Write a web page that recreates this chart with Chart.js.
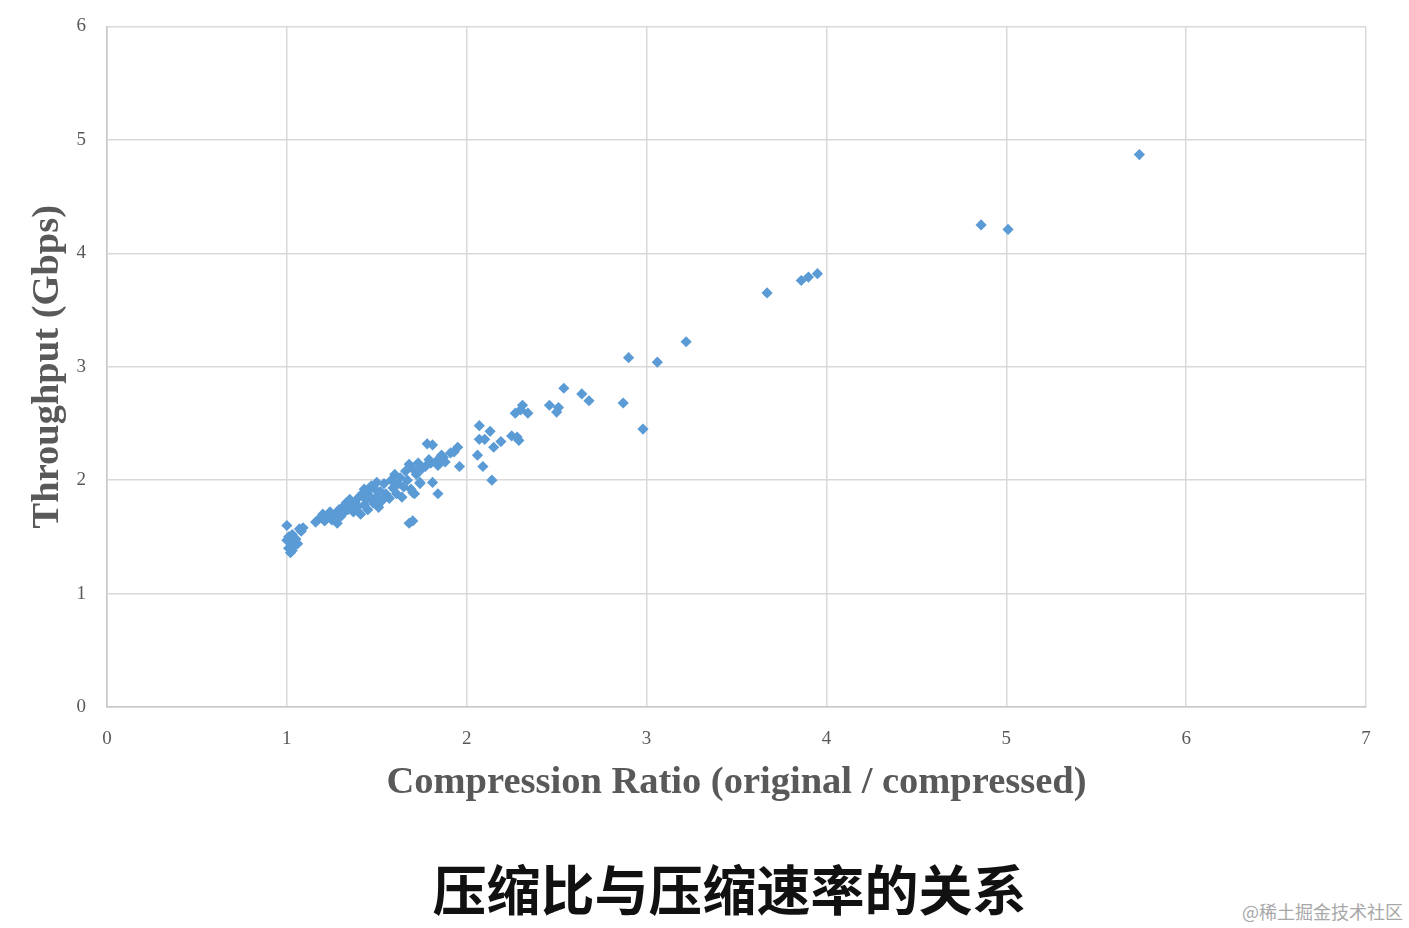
<!DOCTYPE html>
<html>
<head>
<meta charset="utf-8">
<script src="https://cdn.jsdelivr.net/npm/chart.js@4/dist/chart.umd.min.js"></script>
<style>
  html, body { margin: 0; padding: 0; background: #fff; }
  #wrap { position: absolute; left: 0; top: -6px; width: 1409px; height: 826px; }
  #caption {
    position: absolute; left: 0; width: 1409px; top: 852px; text-align: center;
    font-family: "Noto Sans CJK SC", sans-serif; font-weight: 700; font-size: 54px;
    color: #111; line-height: 72px; padding-left: 50px; box-sizing: border-box;
  }
  #mark {
    position: absolute; right: 6px; top: 898px;
    font-family: "Noto Sans CJK SC", sans-serif; font-size: 18px; color: #a8a8a8;
  }
</style>
</head>
<body>
<div id="wrap"><canvas id="chart"></canvas></div>
<div id="caption">压缩比与压缩速率的关系</div>
<div id="mark">@稀土掘金技术社区</div>
<script>
// compression ratio (x) and throughput in Gbps (y)
const ratio = [
  1.00, 1.01, 1.02, 1.01, 1.02, 1.03, 1.04, 1.05, 1.06, 1.03, 1.07, 1.09, 1.08, 1.00,
  1.16, 1.18, 1.20, 1.21, 1.23, 1.24, 1.25, 1.27, 1.28, 1.29, 1.30, 1.31, 1.32, 1.33, 1.34, 1.35, 1.36,
  1.37, 1.38, 1.39, 1.40, 1.41, 1.42, 1.43, 1.44, 1.45, 1.45, 1.46, 1.47, 1.48, 1.49, 1.50, 1.51, 1.52, 1.53, 1.54, 1.55, 1.50, 1.43,
  1.57, 1.58, 1.59, 1.60, 1.61, 1.62, 1.63, 1.64, 1.65, 1.66, 1.67, 1.68, 1.69, 1.70, 1.71, 1.72, 1.73, 1.74, 1.68, 1.70, 1.75,
  1.78, 1.81, 1.77, 1.79, 1.80, 1.81, 1.84, 1.84, 1.84, 1.87, 1.88, 1.91, 1.93, 1.95, 1.96, 1.74, 1.70, 1.86,
  2.07, 2.13, 2.07, 2.10, 2.19, 2.15, 2.25, 2.28, 2.29, 2.06, 2.09, 2.14, 2.27, 2.31, 2.34, 2.30,
  2.46, 2.51, 2.50, 2.54, 2.64, 2.68, 2.87, 2.98, 2.90, 3.06, 3.22,
  3.67, 3.86, 3.90, 3.95, 4.86, 5.01, 5.74
];
const throughput = [
  1.60, 1.50, 1.45, 1.40, 1.36, 1.38, 1.42, 1.48, 1.44, 1.52, 1.57, 1.58, 1.55, 1.47,
  1.63, 1.66, 1.70, 1.64, 1.68, 1.72, 1.65, 1.70, 1.62, 1.74, 1.68, 1.76, 1.72, 1.80, 1.74, 1.83, 1.78,
  1.72, 1.80, 1.76, 1.85, 1.70, 1.88, 1.78, 1.83, 1.90, 1.74, 1.86, 1.95, 1.80, 1.92, 1.85, 1.76, 1.90, 1.82, 1.97, 1.88, 1.98, 1.92,
  1.84, 2.00, 1.93, 2.05, 1.88, 1.97, 2.02, 1.85, 1.94, 2.08, 2.00, 2.14, 1.92, 2.10, 1.88, 2.05, 2.15, 1.97, 1.62, 1.64, 2.10,
  2.32, 2.31, 2.12, 2.18, 2.15, 1.98, 2.18, 1.88, 2.13, 2.20, 2.16, 2.24, 2.25, 2.29, 2.12, 1.98, 1.89, 2.22,
  2.48, 2.43, 2.36, 2.36, 2.34, 2.29, 2.39, 2.38, 2.35, 2.22, 2.12, 2.00, 2.59, 2.66, 2.59, 2.62,
  2.66, 2.64, 2.60, 2.81, 2.76, 2.70, 2.68, 2.45, 3.08, 3.04, 3.22,
  3.65, 3.76, 3.79, 3.82, 4.25, 4.21, 4.87
];
const xTitle = "Compression Ratio (original / compressed)";
const yTitle = "Throughput (Gbps)";

const points = ratio.map((x, i) => ({ x: x, y: throughput[i] }));

const tickFont = { family: "'Liberation Serif', serif", size: 19 };
const titleFont = { family: "'Liberation Serif', serif", size: 38.5, weight: "bold" };
const grid = { color: "#d9d9d9", lineWidth: 1.5, drawTicks: false };

new Chart(document.getElementById("chart"), {
  type: "scatter",
  data: {
    datasets: [{
      data: points,
      pointStyle: "rectRot",
      radius: 5.6,
      backgroundColor: "#5b9bd5",
      borderColor: "#5b9bd5",
      borderWidth: 0,
    }],
  },
  options: {
    responsive: true,
    maintainAspectRatio: false,
    animation: false,
    layout: { padding: { top: 21, right: 43, left: 0, bottom: 0 } },
    plugins: { legend: false, tooltip: { enabled: false } },
    scales: {
      x: {
        type: "linear",
        min: 0, max: 7,
        grid: grid,
        border: { color: "#c8c8c8", width: 1.5 },
        ticks: { stepSize: 1, color: "#595959", font: tickFont, padding: 21, maxRotation: 0 },
        title: { display: true, text: xTitle, color: "#595959", font: titleFont, padding: { top: 0, bottom: 14 } },
        afterFit: (s) => { s.height = 113; },
      },
      y: {
        min: 0, max: 6,
        grid: grid,
        border: { color: "#c8c8c8", width: 1.5 },
        ticks: { stepSize: 1, color: "#595959", font: tickFont, padding: 21 },
        title: { display: true, text: yTitle, color: "#595959", font: titleFont, padding: { top: 25, bottom: 0 } },
        afterFit: (s) => { s.width = 107; },
      },
    },
  },
});
</script>
</body>
</html>
